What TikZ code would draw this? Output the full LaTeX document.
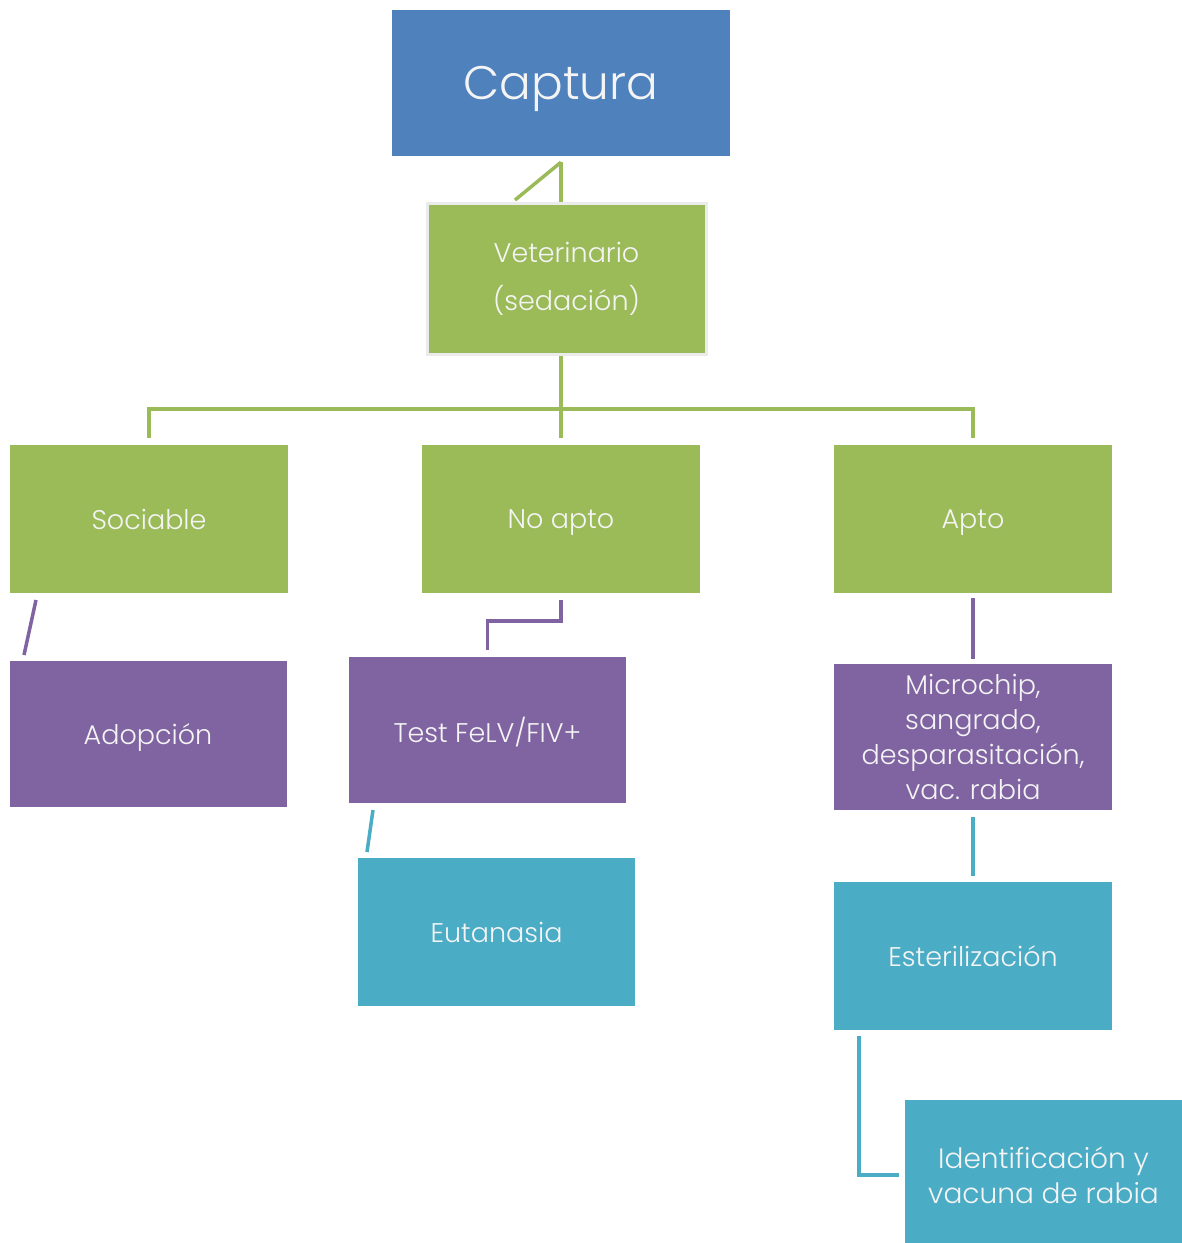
\documentclass[tikz,border=0pt]{standalone}
\usepackage{fontspec}
\IfFontExistsTF{Poppins Light}{\setmainfont{Poppins Light}}{\setmainfont{Poppins}}
\usetikzlibrary{calc}
\definecolor{cgreen}{HTML}{9BBB59}
\definecolor{cblue}{HTML}{4F81BD}
\definecolor{cpurple}{HTML}{8064A2}
\definecolor{ccyan}{HTML}{4BACC6}
\definecolor{ctext}{HTML}{F4F4F4}
\begin{document}
\begin{tikzpicture}[x=1pt,y=-1pt,
  box/.style={rectangle, inner sep=0pt, align=center, text=ctext,
    font=\fontsize{27}{35}\selectfont},
  oneline/.style={text depth=0pt},
  gbox/.style={box, fill=cgreen, minimum width=278pt, minimum height=148pt},
  pbox/.style={box, fill=cpurple, minimum width=277pt, minimum height=146pt},
  cbox/.style={box, fill=ccyan, minimum width=278pt, minimum height=148pt},
  gl/.style={draw=cgreen, line width=3.5pt},
  pl/.style={draw=cpurple, line width=3.5pt},
  cl/.style={draw=ccyan, line width=3.5pt}]
\useasboundingbox[fill=white] (0,0) rectangle (1182,1243);

\node[box, fill=cblue, minimum width=338pt, minimum height=146pt, text depth=0pt,
  font=\fontsize{47}{60}\selectfont] (cap) at (561,83) {Captura};
\node[gbox, minimum width=279pt, minimum height=151pt, draw=black!8, line width=3pt,
  font=\fontsize{27}{48}\selectfont] (vet) at (566.5,278.5) {Veterinario\\(sedación)};

\node[gbox, oneline] (soc) at (149,519) {Sociable};
\node[gbox, oneline] (noapto) at (561,519) {No apto};
\node[gbox, oneline] (apto) at (973,519) {Apto};

\node[pbox, oneline] (adop) at (148,734) {Adopción};
\node[pbox, oneline] (test) at (487.5,729.5) {Test FeLV/FIV+};
\node[pbox, minimum width=278pt] (micro) at (973,737) {Microchip,\\sangrado,\\desparasitación,\\vac. rabia};

\node[cbox, oneline, minimum width=277pt] (euta) at (496.5,932) {Eutanasia};
\node[cbox, oneline] (ester) at (973,956) {Esterilización};
\node[cbox, minimum width=277pt, minimum height=150pt,
  font=\fontsize{28}{35}\selectfont] (ident) at (1043.5,1175) {Identificación y\\vacuna de rabia};

% Captura - Veterinario
\coordinate (cvd) at (515,200);
\draw[gl] ([yshift=-6pt]cap.south) -- (cap.south |- vet.north);
\draw[gl] ([yshift=-6pt]cap.south) -- (cvd);

% Veterinario - level 2
\coordinate (bar) at (561,409);
\draw[gl] (noapto.north |- vet.south) -- ([yshift=7pt]noapto.north);
\draw[gl] ([yshift=7pt]soc.north) |- (apto.north |- bar) -- ([yshift=7pt]apto.north);

% Sociable - Adopcion
\coordinate (sa1) at (36,600);
\coordinate (sa2) at (24,655);
\draw[pl] (sa1) -- (sa2);

% No apto - Test
\draw[pl] ([yshift=-7pt]noapto.south) -- ++(0,21) -| ([yshift=6pt]test.north);

% Test - Eutanasia
\coordinate (te1) at (373,810);
\coordinate (te2) at (367,852);
\draw[cl] (te1) -- (te2);

% Apto - Microchip
\draw[pl] ([yshift=-5pt]apto.south) -- ([yshift=5pt]micro.north);

% Microchip - Esterilizacion
\draw[cl] ([yshift=-7pt]micro.south) -- ([yshift=6pt]ester.north);

% Esterilizacion - Identificacion
\coordinate (ei) at (859,1036);
\draw[cl] (ei) |- ([xshift=-6pt]ident.west);
\end{tikzpicture}
\end{document}
